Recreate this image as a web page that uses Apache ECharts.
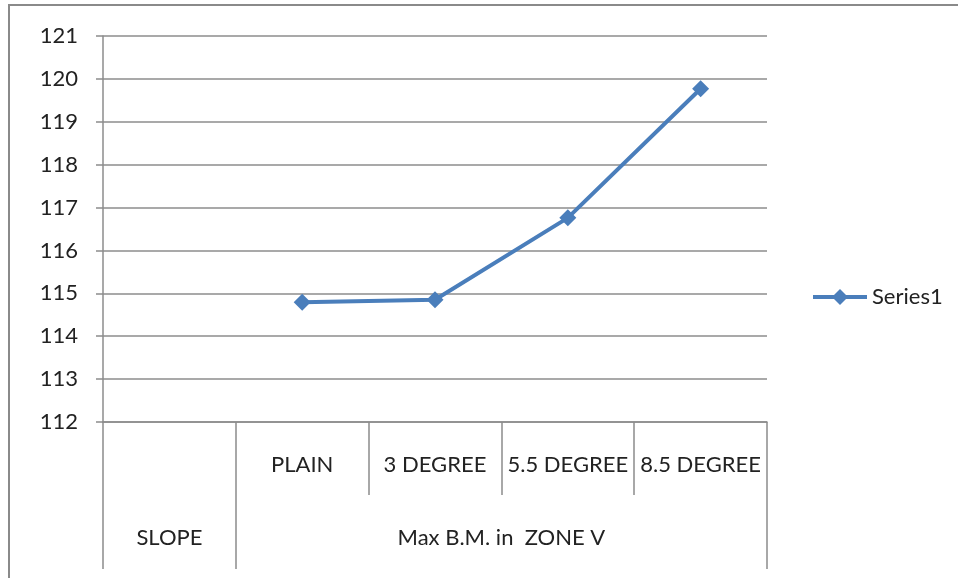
<!DOCTYPE html>
<html><head><meta charset="utf-8">
<script src="https://cdn.jsdelivr.net/npm/echarts@6/dist/echarts.min.js"></script>
<style>html,body{margin:0;padding:0;background:#fff}#c{width:958px;height:578px}</style>
</head><body><div id="c"></div>
<script>
const categories = ['', 'PLAIN', '3 DEGREE', '5.5 DEGREE', '8.5 DEGREE'];
const series1 = [null, 114.79, 114.85, 116.76, 119.77];
const groupLabels = ['', 'SLOPE', '', '', '', '', 'Max B.M. in  ZONE V', '', '', '', ''];
const yMin = 112, yMax = 121, yStep = 1;

const FONT = 'Lato';
const GRAY = '#8c8c8c';
const BLUE = '#4a7ebb';
const chart = echarts.init(document.getElementById('c'));
chart.setOption({
  animation: false,
  graphic: [{
    type: 'rect', shape: {x: 9, y: 5, width: 1200, height: 1200},
    style: {fill: 'none', stroke: '#8a8a8a', lineWidth: 2}
  }],
  grid: {left: 103, right: 191, top: 36, bottom: 156},
  legend: {
    data: [{name: 'Series1', lineStyle: {width: 4, color: BLUE}}],
    left: 806, top: 281, itemWidth: 54, itemHeight: 20, itemGap: 4,
    lineStyle: {width: 4, color: BLUE},
    textStyle: {fontFamily: FONT, fontSize: 22, color: '#222'}
  },
  xAxis: [{
    type: 'category', data: categories, boundaryGap: true, position: 'bottom',
    axisLine: {show: true, lineStyle: {color: GRAY, width: 1.5}},
    axisTick: {show: true, interval: 0, length: 73, lineStyle: {color: GRAY, width: 1.5}},
    axisLabel: {interval: 0, margin: 32, fontFamily: FONT, fontSize: 22, color: '#222'}
  }, {
    type: 'category', data: groupLabels, boundaryGap: false, position: 'bottom', offset: 73,
    axisLine: {show: false},
    axisTick: {show: true, length: 74, interval: function (i) { return i === 0 || i === 2 || i === 10; }, lineStyle: {color: GRAY, width: 1.5}},
    axisLabel: {interval: function (i) { return i === 1 || i === 6; }, margin: 32, fontFamily: FONT, fontSize: 22, color: '#222'}
  }],
  yAxis: {
    type: 'value', min: yMin, max: yMax, interval: yStep,
    axisLine: {show: true, lineStyle: {color: GRAY, width: 1.5}},
    axisTick: {show: true, length: 7, lineStyle: {color: GRAY, width: 1.5}},
    splitLine: {lineStyle: {color: GRAY, width: 1.5}},
    axisLabel: {margin: 25, fontFamily: FONT, fontSize: 22, color: '#222'}
  },
  series: [{
    name: 'Series1', type: 'line', data: series1, xAxisIndex: 0,
    smooth: false, connectNulls: false,
    symbol: 'diamond', symbolSize: 17,
    lineStyle: {color: BLUE, width: 4},
    itemStyle: {color: BLUE}
  }]
});
</script></body></html>
